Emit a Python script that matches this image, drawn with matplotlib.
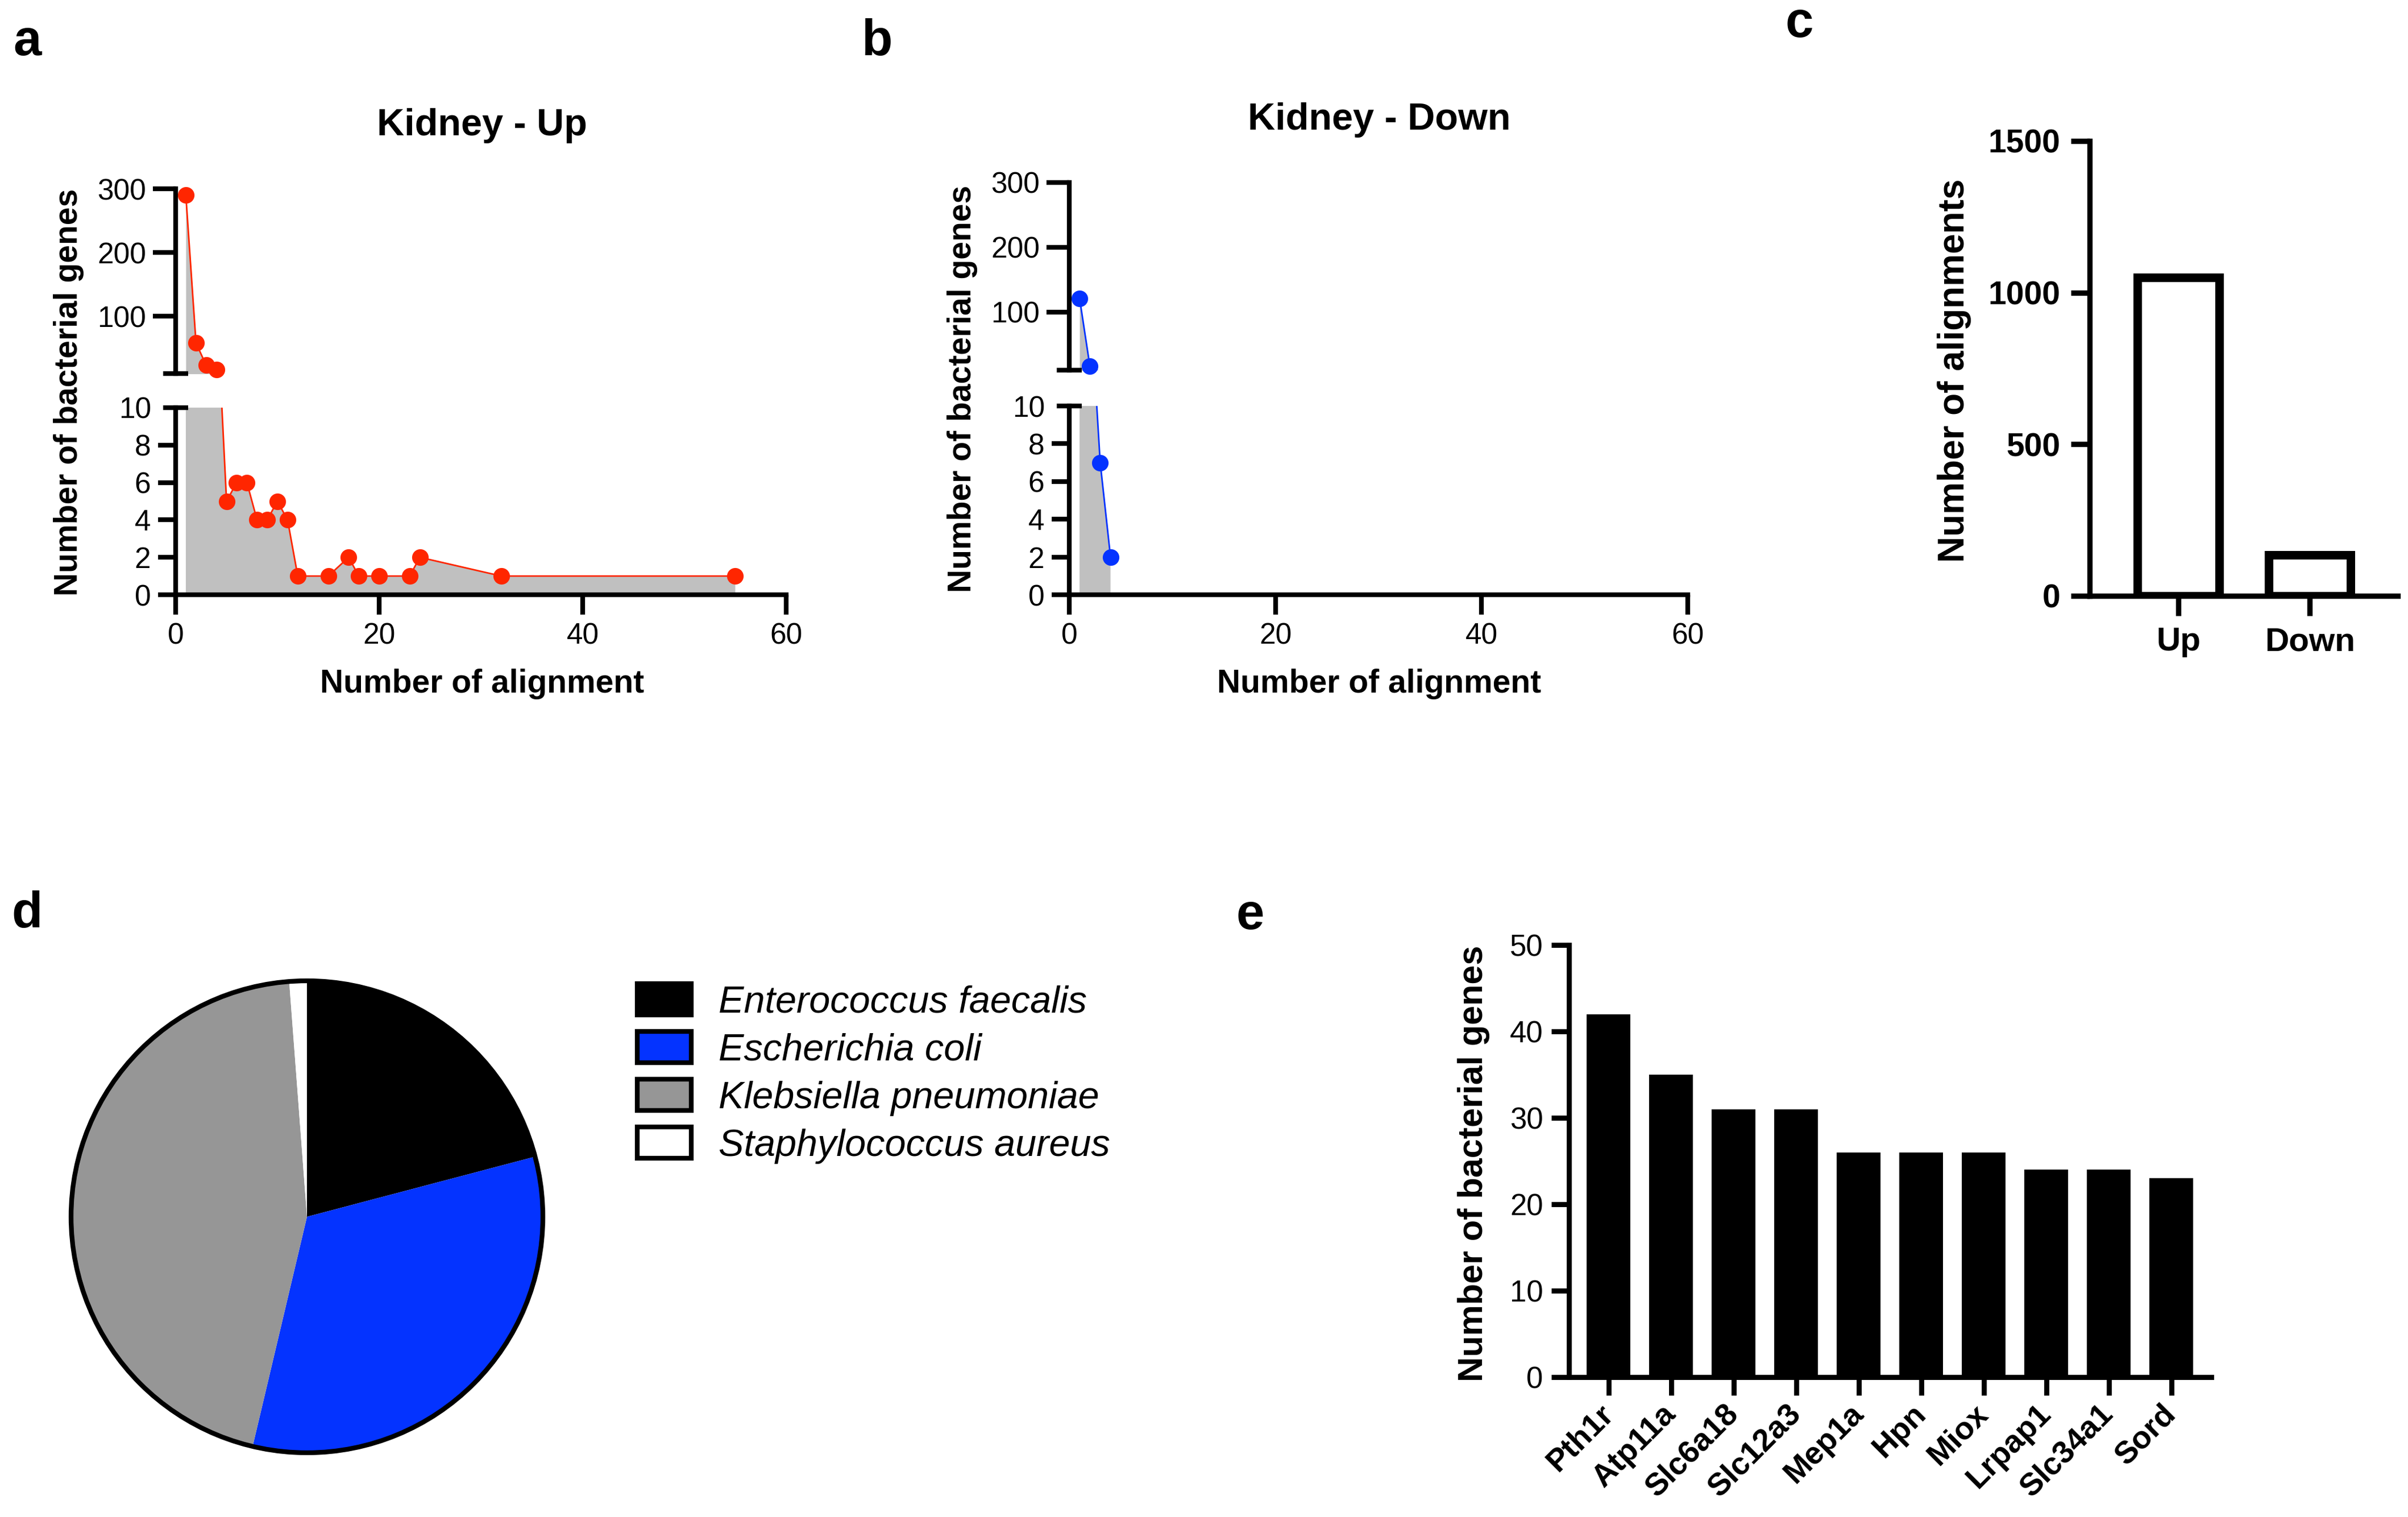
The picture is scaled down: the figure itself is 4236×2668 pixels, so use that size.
import numpy as np
import matplotlib
matplotlib.use('Agg')
import matplotlib.pyplot as plt
import matplotlib.patches as mpatches

# ---------------- data ----------------
up_x = [1, 2, 3, 4, 5, 6, 7, 8, 9, 10, 11, 12, 15, 17, 18, 20, 23, 24, 32, 55]
up_y = [290, 58, 23, 16, 5, 6, 6, 4, 4, 5, 4, 1, 1, 2, 1, 1, 1, 2, 1, 1]
down_x = [1, 2, 3, 4]
down_y = [121, 16, 7, 2]

total_cats = ['Up', 'Down']
total_vals = [1050, 135]

species = ['Enterococcus faecalis', 'Escherichia coli',
           'Klebsiella pneumoniae', 'Staphylococcus aureus']
species_pct = [20.9, 32.8, 45.1, 1.2]
species_colors = ['#000000', '#0433FF', '#969696', '#FFFFFF']

genes = ['Pth1r', 'Atp11a', 'Slc6a18', 'Slc12a3', 'Mep1a', 'Hpn', 'Miox',
         'Lrpap1', 'Slc34a1', 'Sord']
gene_counts = [42, 35, 31, 31, 26, 26, 26, 24, 24, 23]

# ---------------- style ----------------
plt.rcParams['font.family'] = ['Liberation Sans', 'DejaVu Sans']
LW = 3.0
FILL = '#C0C0C0'
RED = '#FF2600'
BLUE = '#0433FF'

W, H = 4236, 2668
DPI = 200
fig = plt.figure(figsize=(W / DPI, H / DPI), dpi=DPI)


def fx(x):
    return x / W


def fy(y):
    return 1 - y / H


def px_axes(left, top, right, bottom):
    return fig.add_axes([fx(left), fy(bottom), (right - left) / W, (bottom - top) / H])


def set_ylabel_at(ax, text, size, xpx, ypx):
    ax.set_ylabel(text, fontsize=size, fontweight='bold')
    ax.yaxis.set_label_coords(fx(xpx), fy(ypx), transform=fig.transFigure)
    ax.yaxis.label.set_va('baseline')


def set_xlabel_at(ax, text, size, xpx, ypx):
    ax.set_xlabel(text, fontsize=size, fontweight='bold')
    ax.xaxis.set_label_coords(fx(xpx), fy(ypx), transform=fig.transFigure)
    ax.xaxis.label.set_va('baseline')


def broken_panel(xs, ys, color, left, right, up_top, up_bot, lo_top, lo_bot,
                 title, title_xy, ylab_xy, xlab_xy):
    xs = np.asarray(xs)
    ys = np.asarray(ys)
    ax_u = px_axes(left, up_top, right, up_bot)
    ax_l = px_axes(left, lo_top, right, lo_bot)
    for ax, lo, hi in [(ax_u, 10, 300), (ax_l, 0, 10)]:
        ax.fill_between(xs, ys, 0, color=FILL, lw=0, zorder=1)
        ax.plot(xs, ys, color=color, lw=1.0, zorder=2)
        m = (ys >= lo) & (ys <= hi)
        ax.plot(xs[m], ys[m], ls='none', marker='o', ms=10.5, mew=0,
                color=color, clip_on=False, zorder=3)
        ax.set_xlim(0, 60)
        ax.set_ylim(lo, hi)
        for s in ['top', 'right']:
            ax.spines[s].set_visible(False)
        ax.spines['left'].set_linewidth(LW)
        ax.spines['bottom'].set_linewidth(LW)
        ax.patch.set_alpha(0)
    # upper axis
    ax_u.spines['bottom'].set_visible(False)
    ax_u.set_xticks([])
    ax_u.set_yticks([100, 200, 300])
    ax_u.set_yticks([10], minor=True)
    ax_u.tick_params(axis='y', which='major', direction='out', length=14.4,
                     width=LW, labelsize=18.5, pad=4.3)
    ax_u.tick_params(axis='y', which='minor', direction='inout', length=16, width=LW)
    # lower axis
    ax_l.set_yticks([0, 2, 4, 6, 8])
    ax_l.set_yticks([10], labels=['10'], minor=True)
    ax_l.tick_params(axis='y', which='major', direction='out', length=11,
                     width=LW, labelsize=18.5, pad=4.7)
    ax_l.tick_params(axis='y', which='minor', direction='inout', length=16,
                     width=LW, labelsize=18.5, pad=7.4)
    ax_l.set_xticks([0, 20, 40, 60])
    ax_l.tick_params(axis='x', direction='out', length=12.5, width=LW,
                     labelsize=18.5, pad=5)
    fig.text(fx(title_xy[0]), fy(title_xy[1]), title, ha='center', va='baseline',
             fontsize=24, fontweight='bold')
    set_ylabel_at(ax_l, 'Number of bacterial genes', 20.5, *ylab_xy)
    set_xlabel_at(ax_l, 'Number of alignment', 20.5, *xlab_xy)
    return ax_u, ax_l


# ---------------- panel a ----------------
broken_panel(up_x, up_y, RED, 309, 1383, 332, 657, 717, 1046,
             'Kidney - Up', (848, 238), (136, 690), (848, 1218))
# ---------------- panel b ----------------
broken_panel(down_x, down_y, BLUE, 1881, 2969, 321, 651, 714, 1046,
             'Kidney - Down', (2426, 228), (1708, 684), (2426, 1218))

# ---------------- panel c ----------------
ax_c = px_axes(3676, 248, 4218, 1048)
xc = np.arange(len(total_cats))
ax_c.bar(xc, total_vals, width=0.62, facecolor='white', edgecolor='black',
         linewidth=5.4, zorder=2)
ax_c.set_xlim(-0.675, 1.67)
ax_c.set_ylim(0, 1500)
ax_c.set_yticks([0, 500, 1000, 1500])
ax_c.set_xticks(xc, total_cats)
for s in ['top', 'right']:
    ax_c.spines[s].set_visible(False)
for s in ['left', 'bottom']:
    ax_c.spines[s].set_linewidth(3.4)
ax_c.tick_params(axis='y', length=12, width=3.4, labelsize=20.5, pad=6.5)
ax_c.tick_params(axis='x', length=12.5, width=3.4, labelsize=21, pad=7)
for lab in ax_c.get_yticklabels() + ax_c.get_xticklabels():
    lab.set_fontweight('bold')
set_ylabel_at(ax_c, 'Number of alignments', 23, 3455, 652)

# ---------------- panel d ----------------
R = 415
ax_d = px_axes(540 - 440, 2140 - 440, 540 + 440, 2140 + 440)
ax_d.pie(species_pct, colors=species_colors, startangle=90, counterclock=False,
         wedgeprops=dict(linewidth=0))
ax_d.add_patch(mpatches.Circle((0, 0), 1, fill=False, edgecolor='black', lw=3))
ax_d.set_xlim(-440 / R, 440 / R)
ax_d.set_ylim(-440 / R, 440 / R)
ax_d.set_aspect('equal')
ax_d.axis('off')

handles = [mpatches.Patch(facecolor=c, edgecolor='black', linewidth=3)
           for c in species_colors]
fig.legend(handles, species, loc='upper left',
           bbox_to_anchor=(fx(1121), fy(1730)), frameon=False,
           prop=dict(family=['Liberation Sans', 'DejaVu Sans'], style='italic', size=24),
           handlelength=1.42, handleheight=0.9, handletextpad=0.72,
           labelspacing=0.29, borderpad=0, borderaxespad=0)

# ---------------- panel e ----------------
ax_e = px_axes(2760, 1662, 3890, 2422)
xe = np.arange(len(genes))
ax_e.bar(xe, gene_counts, width=0.70, color='black', linewidth=0, zorder=2)
ax_e.set_xlim(-0.636, 9.64)
ax_e.set_ylim(0, 50)
ax_e.set_yticks(range(0, 51, 10))
ax_e.set_xticks(xe, genes)
for s in ['top', 'right']:
    ax_e.spines[s].set_visible(False)
for s in ['left', 'bottom']:
    ax_e.spines[s].set_linewidth(3.2)
ax_e.tick_params(axis='y', length=11, width=3.2, labelsize=19, pad=5.4)
ax_e.tick_params(axis='x', length=11.5, width=3.2, labelsize=20, pad=9)
plt.setp(ax_e.get_xticklabels(), rotation=45, ha='right', va='center',
         rotation_mode='anchor', fontweight='bold')
set_ylabel_at(ax_e, 'Number of bacterial genes', 22, 2608, 2046)

# ---------------- panel letters ----------------
for letter, (x, y) in zip('abcde', [(23, 97), (1515, 97), (3140, 65),
                                     (20, 1631), (2175, 1634)]):
    fig.text(fx(x), fy(y), letter, ha='left', va='baseline', fontsize=32,
             fontweight='bold')

fig.savefig('out.png', dpi=DPI, facecolor='white')
